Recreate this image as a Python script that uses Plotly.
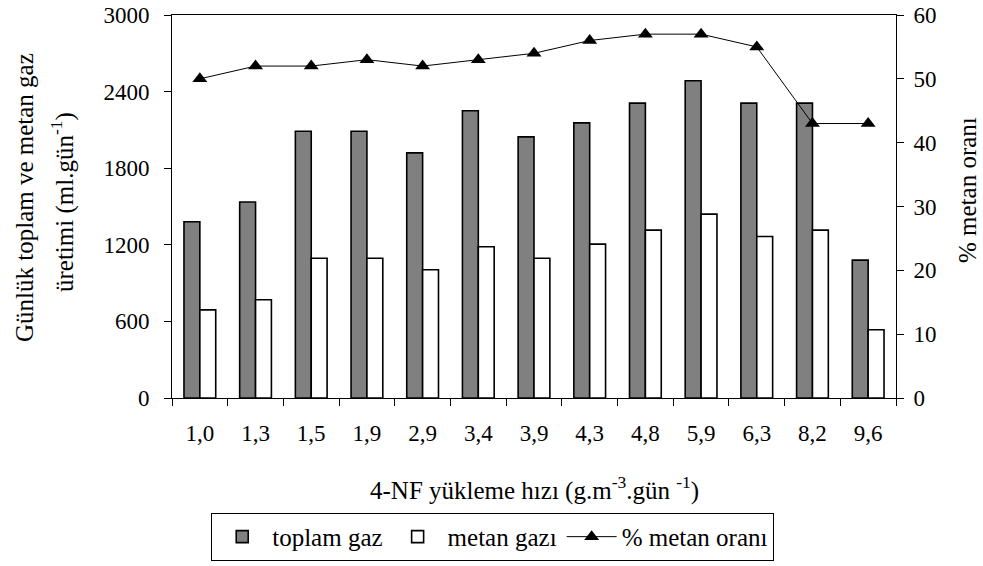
import plotly.graph_objects as go

categories = ["1,0", "1,3", "1,5", "1,9", "2,9", "3,4", "3,9", "4,3", "4,8", "5,9", "6,3", "8,2", "9,6"]
toplam_gaz = [1380, 1535, 2090, 2090, 1920, 2250, 2045, 2155, 2310, 2485, 2310, 2310, 1080]
metan_gazi = [690, 770, 1095, 1095, 1005, 1185, 1095, 1205, 1315, 1440, 1265, 1315, 535]
metan_orani = [50, 52, 52, 53, 52, 53, 54, 56, 57, 57, 55, 43, 43]

left_ticks = [0, 600, 1200, 1800, 2400, 3000]
right_ticks = [0, 10, 20, 30, 40, 50, 60]

FONT = "Liberation Serif, Times New Roman, serif"
TFS = 23   # tick font size
FS = 25    # titles / legend

fig = go.Figure()
fig.add_trace(go.Bar(
    x=categories, y=toplam_gaz, name="toplam gaz",
    marker=dict(color="#808080", line=dict(color="black", width=1.6)),
))
fig.add_trace(go.Bar(
    x=categories, y=metan_gazi, name="metan gazı",
    marker=dict(color="white", line=dict(color="black", width=1.6)),
))
fig.add_trace(go.Scatter(
    x=categories, y=metan_orani, name="% metan oranı", yaxis="y2",
    mode="lines+markers",
    line=dict(color="black", width=1),
    marker=dict(symbol="triangle-up", size=13, color="black"),
))

axis_common = dict(
    showline=True, linecolor="black", linewidth=1,
    ticks="outside", ticklen=7, tickcolor="black", tickwidth=1,
    showgrid=False, zeroline=False, automargin=False,
    tickfont=dict(family=FONT, size=TFS, color="black"),
)

fig.update_layout(
    width=983, height=566,
    margin=dict(l=172, r=87, t=15, b=168, autoexpand=False),
    paper_bgcolor="white", plot_bgcolor="white",
    barmode="group", bargap=0.43, bargroupgap=0,
    font=dict(family=FONT, size=FS, color="black"),
    xaxis=dict(type="category", tickson="boundaries", mirror=True,
               range=[-0.5, len(categories) - 0.5],
               ticklabelstandoff=14, **axis_common),
    yaxis=dict(range=[0, 3000], tickvals=left_ticks, mirror=True,
               ticklabelstandoff=10, **axis_common),
    yaxis2=dict(range=[0, 60], tickvals=right_ticks, overlaying="y", side="right",
                ticklabelstandoff=5, **axis_common),
    legend=dict(
        orientation="h", x=0.443, xanchor="center", y=-0.300, yanchor="top",
        bordercolor="black", borderwidth=1, bgcolor="white",
        font=dict(family=FONT, size=FS, color="black"),
        itemwidth=50, traceorder="normal",
    ),
    showlegend=True,
    annotations=[
        dict(text="Günlük toplam ve metan gaz",
             xref="paper", yref="paper", x=(25 - 172) / 724, y=(398 - 198) / 383, textangle=-90,
             showarrow=False, xanchor="center", yanchor="middle",
             font=dict(family=FONT, size=FS, color="black")),
        dict(text="üretimi (ml.gün<sup>-1</sup>)",
             xref="paper", yref="paper", x=(62 - 172) / 724, y=(398 - 202) / 383, textangle=-90,
             showarrow=False, xanchor="center", yanchor="middle",
             font=dict(family=FONT, size=FS, color="black")),
        dict(text="% metan oranı",
             xref="paper", yref="paper", x=(968 - 172) / 724, y=(398 - 190) / 383, textangle=-90,
             showarrow=False, xanchor="center", yanchor="middle",
             font=dict(family=FONT, size=FS, color="black")),
        dict(text="4-NF yükleme hızı (g.m<sup>-3</sup>.gün <sup>-1</sup>)",
             xref="paper", yref="paper", x=(534 - 172) / 724, y=(398 - 488) / 383,
             showarrow=False, xanchor="center", yanchor="middle",
             font=dict(family=FONT, size=FS, color="black")),
    ],
)

fig.write_html("out.html", config={"displayModeBar": False},
               post_script="document.body.style.margin='0px';")
